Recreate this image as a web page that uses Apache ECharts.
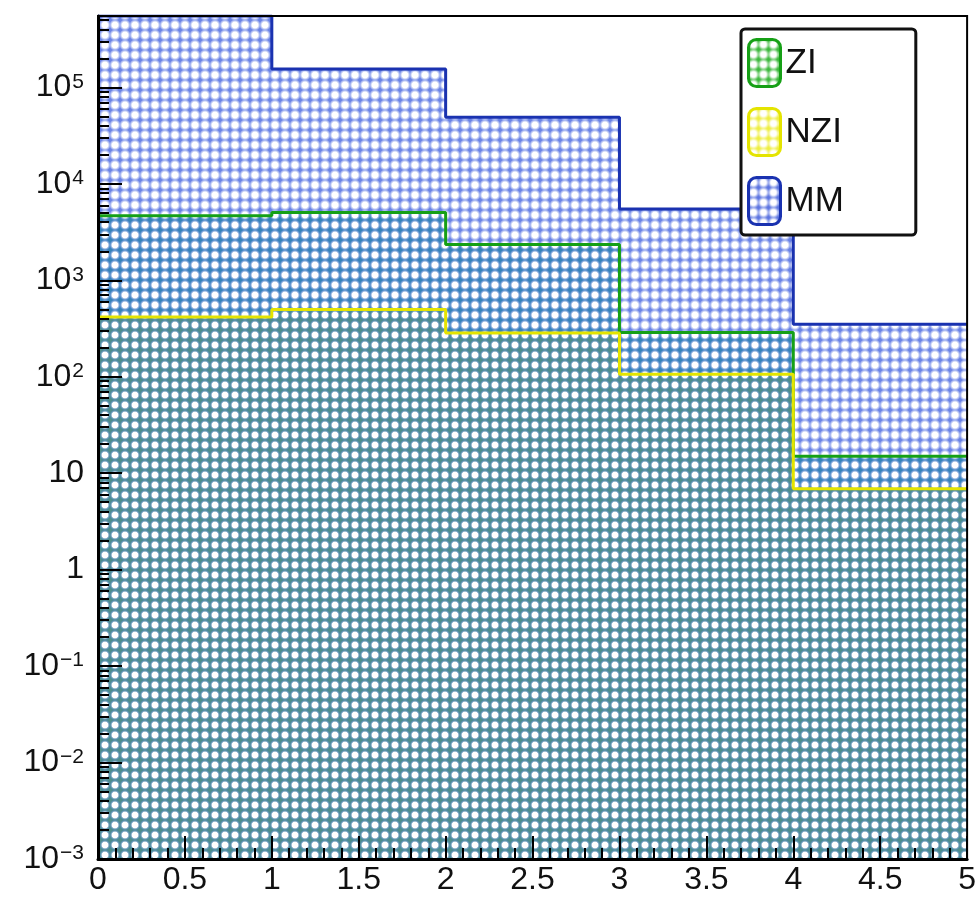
<!DOCTYPE html>
<html>
<head>
<meta charset="utf-8">
<script src="https://cdn.jsdelivr.net/npm/echarts@6/dist/echarts.min.js"></script>
<style>
  html, body { margin: 0; padding: 0; background: #fff; }
  #chart { width: 979px; height: 898px; }
</style>
</head>
<body>
<div id="chart"></div>
<script>
// bin edges and contents (log y)
var binEdges = [0, 1, 2, 3, 4, 5];
var mmValues = [550000, 155000, 49000, 5500, 350];
var ziValues = [4660, 5060, 2350, 287, 15];
var nziValues = [417, 498, 284, 106, 6.9];
var seriesNames = ['ZI', 'NZI', 'MM'];
var yMin = 0.001, yMax = 550000;
var decades = [0.001, 0.01, 0.1, 1, 10, 100, 1000, 10000, 100000];

var FONT = '"Liberation Sans", Arial, Helvetica, sans-serif';

// ROOT-like cross hatch: colour tile with soft white holes
function hatch(color) {
  var c = document.createElement('canvas');
  c.width = c.height = 10;
  var g = c.getContext('2d');
  g.fillStyle = color;
  g.fillRect(0, 0, 10, 10);
  g.globalCompositeOperation = 'destination-out';
  var grd = g.createRadialGradient(5, 5, 0, 5, 5, 5.8);
  grd.addColorStop(0, 'rgba(0,0,0,1)');
  grd.addColorStop(0.5, 'rgba(0,0,0,1)');
  grd.addColorStop(1, 'rgba(0,0,0,0)');
  g.fillStyle = grd;
  g.fillRect(0, 0, 10, 10);
  return { image: c, repeat: 'repeat' };
}

// step points: value at left edge, last value repeated at right edge
function steps(vals) {
  var pts = [];
  for (var i = 0; i < vals.length; i++) pts.push([binEdges[i], vals[i]]);
  pts.push([binEdges[vals.length], vals[vals.length - 1]]);
  return pts;
}

var minorVals = [];
for (var e = -3; e <= 5; e++) {
  for (var k = 2; k <= 9; k++) {
    var v = k * Math.pow(10, e);
    if (v < yMax) minorVals.push(v);
  }
}

function yFmt(v) {
  var e = Math.round(Math.log10(v));
  if (e === 0) return '{b|1}';
  if (e === 1) return '{b|10}';
  return '{b|10}{s|' + (e < 0 ? '\u2212' + (-e) : e) + '}';
}

var chart = echarts.init(document.getElementById('chart'));

var option = {
  animation: false,
  backgroundColor: '#fff',
  grid: {
    left: 98, right: 7, top: 16, bottom: 39, z: 5,
    show: true, borderColor: '#000', borderWidth: 2
  },
  legend: {
    orient: 'vertical',
    left: 741, top: 29,
    padding: [9, 72, 9, 6],
    itemWidth: 32, itemHeight: 47, itemGap: 19,
    icon: 'roundRect',
    borderColor: '#111', borderWidth: 3, borderRadius: 4,
    backgroundColor: '#fff',
    textStyle: { fontSize: 35, color: '#111', fontFamily: FONT },
    data: [
      { name: 'ZI', itemStyle: { color: hatch('#3cb83c'), borderColor: '#16a016', borderWidth: 3 } },
      { name: 'NZI', itemStyle: { color: hatch('#eeee40'), borderColor: '#e4e400', borderWidth: 3 } },
      { name: 'MM', itemStyle: { color: hatch('#5c74e0'), borderColor: '#1a32b0', borderWidth: 3 } }
    ]
  },
  xAxis: {
    type: 'value', min: 0, max: 5, interval: 0.5, z: 5,
    axisLine: { lineStyle: { color: '#000', width: 3 } },
    axisTick: { inside: true, length: 23, lineStyle: { color: '#000', width: 2 } },
    minorTick: { show: true, splitNumber: 5, length: 11, lineStyle: { color: '#000', width: 2 } },
    axisLabel: { fontSize: 32, color: '#111', fontFamily: FONT, margin: 5, showMinLabel: true, showMaxLabel: true },
    splitLine: { show: false }
  },
  yAxis: [
    {
      type: 'log', min: yMin, max: yMax, logBase: 10, z: 5,
      axisLine: { show: true, lineStyle: { color: '#000', width: 3 } },
      axisTick: { show: true, inside: true, length: 24, customValues: decades, lineStyle: { color: '#000', width: 2 } },
      axisLabel: {
        customValues: decades, margin: 14, formatter: yFmt,
        rich: {
          b: { fontSize: 32, lineHeight: 32, color: '#111', fontFamily: FONT, verticalAlign: 'bottom' },
          s: { fontSize: 21, lineHeight: 21, color: '#111', fontFamily: FONT, verticalAlign: 'top', padding: [0, 0, 22, 1] }
        }
      },
      splitLine: { show: false }
    },
    {
      type: 'log', min: yMin, max: yMax, logBase: 10, position: 'left', offset: 0, z: 5,
      axisLine: { show: false },
      axisTick: { show: true, inside: true, length: 11, customValues: minorVals, lineStyle: { color: '#000', width: 2 } },
      axisLabel: { show: false },
      splitLine: { show: false }
    }
  ],
  series: [
    {
      name: 'MM', type: 'line', step: 'end', data: steps(mmValues),
      showSymbol: false, symbol: 'none',
      lineStyle: { color: '#1a32b0', width: 3 },
      itemStyle: { color: '#1a32b0' },
      areaStyle: { origin: 'start', color: hatch('#6a82e6'), opacity: 1 }
    },
    {
      name: 'ZI', type: 'line', step: 'end', data: steps(ziValues),
      showSymbol: false, symbol: 'none',
      lineStyle: { color: '#16a016', width: 3 },
      itemStyle: { color: '#16a016' },
      areaStyle: { origin: 'start', color: hatch('#3583b8'), opacity: 1 }
    },
    {
      name: 'NZI', type: 'line', step: 'end', data: steps(nziValues),
      showSymbol: false, symbol: 'none',
      lineStyle: { color: '#e4e400', width: 3 },
      itemStyle: { color: '#e4e400' },
      areaStyle: { origin: 'start', color: hatch('#4f8d8a'), opacity: 1 }
    }
  ]
};

chart.setOption(option);
</script>
</body>
</html>
